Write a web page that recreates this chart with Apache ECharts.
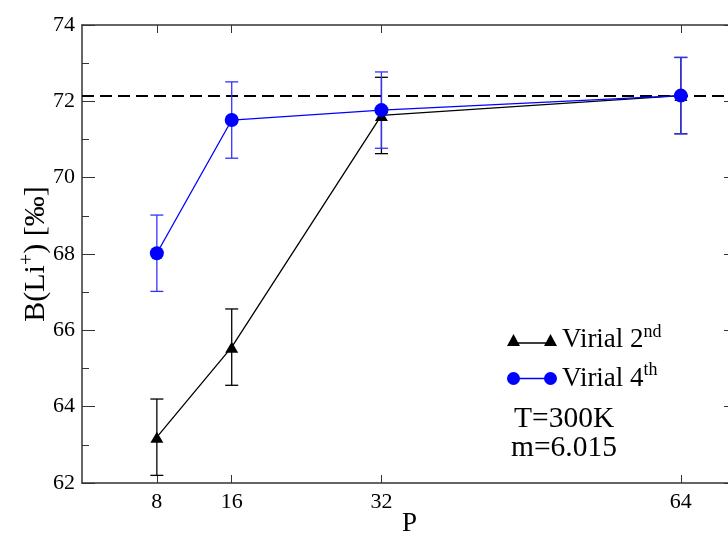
<!DOCTYPE html>
<html>
<head>
<meta charset="utf-8">
<script src="https://cdn.jsdelivr.net/npm/echarts@6/dist/echarts.min.js"></script>
<style>html,body{margin:0;padding:0;background:#fff;overflow:hidden}#c{width:728px;height:534px}</style>
</head>
<body>
<div id="c"></div>
<script>
// ---- data ----
var P = [8, 16, 32, 64];
var virial2 = [63.2, 65.56, 71.63, 72.15];
var virial2Err = [1.0, 1.0, 1.0, 1.0];
var virial4 = [68.02, 71.51, 71.77, 72.15];
var virial4Err = [1.0, 1.0, 1.0, 1.0];
var refLine = 72.14;
var xTicks = [8, 16, 32, 64];
var yMin = 62, yMax = 74, yStep = 2;
var xMin = 0, xMax = 70;

var FONT = 'Liberation Serif';
var chart = echarts.init(document.getElementById('c'), null, {renderer: 'canvas'});

function pairs(xs, ys) { return xs.map(function (x, i) { return [x, ys[i]]; }); }
function errData(xs, ys, es) { return xs.map(function (x, i) { return [x, ys[i] - es[i], ys[i] + es[i]]; }); }

function errRender(color) {
  return function (params, api) {
    var x = api.value(0);
    var lo = api.coord([x, api.value(1)]);
    var hi = api.coord([x, api.value(2)]);
    var w = 6.5;
    var st = {stroke: color, lineWidth: 1.3};
    return {
      type: 'group',
      children: [
        {type: 'line', shape: {x1: lo[0], y1: lo[1], x2: hi[0], y2: hi[1]}, style: st},
        {type: 'line', shape: {x1: lo[0] - w, y1: lo[1], x2: lo[0] + w, y2: lo[1]}, style: st},
        {type: 'line', shape: {x1: hi[0] - w, y1: hi[1], x2: hi[0] + w, y2: hi[1]}, style: st}
      ]
    };
  };
}

var axisLine = {show: true, onZero: false, lineStyle: {color: '#333', width: 1.5}};
var triIcon = 'path://M0,12L6.5,0L13,12Z M6.5,8.3L43.5,8.3L43.5,9.7L6.5,9.7Z M37,12L43.5,0L50,12Z';
var cirIcon = 'path://M0,6.5A6.5,6.5,0,1,1,13,6.5A6.5,6.5,0,1,1,0,6.5Z M6.5,5.8L43.5,5.8L43.5,7.2L6.5,7.2Z M37,6.5A6.5,6.5,0,1,1,50,6.5A6.5,6.5,0,1,1,37,6.5Z';

var option = {
  animation: false,
  backgroundColor: '#fff',
  grid: {left: 82, top: 25, right: -9, bottom: 51, containLabel: false, outerBoundsMode: 'none'},
  xAxis: [{
    type: 'value', min: xMin, max: xMax, position: 'bottom',
    axisLine: axisLine,
    axisTick: {show: true, inside: true, length: 8, customValues: xTicks, lineStyle: {color: '#333', width: 1}},
    axisLabel: {customValues: xTicks, fontFamily: FONT, fontSize: 22, color: '#000', margin: 8},
    splitLine: {show: false},
    name: 'P', nameLocation: 'middle', nameGap: 27, nameMoveOverlap: false,
    nameTextStyle: {fontFamily: FONT, fontSize: 27, color: '#000'}
  }, {
    type: 'value', min: xMin, max: xMax, position: 'top',
    axisLine: axisLine,
    axisTick: {show: true, inside: true, length: 8, customValues: xTicks, lineStyle: {color: '#333', width: 1}},
    axisLabel: {show: false},
    splitLine: {show: false}
  }],
  yAxis: [{
    type: 'value', min: yMin, max: yMax, interval: yStep, position: 'left',
    axisLine: axisLine,
    axisTick: {show: true, inside: true, length: 13, lineStyle: {color: '#333', width: 1}},
    minorTick: {show: true, splitNumber: 2, length: 7, lineStyle: {color: '#333', width: 1}},
    axisLabel: {fontFamily: FONT, fontSize: 22, color: '#000', margin: 7},
    splitLine: {show: false},
    name: '{n|B(Li}{s|+}{n|) [‰]}', nameLocation: 'middle', nameGap: 28, nameRotate: 90, nameMoveOverlap: false,
    nameTextStyle: {
      fontFamily: FONT, fontSize: 30, color: '#000',
      rich: {
        n: {fontFamily: FONT, fontSize: 30, color: '#000'},
        s: {fontFamily: FONT, fontSize: 20, color: '#000', padding: [0, 0, 16, 0]}
      }
    }
  }, {
    type: 'value', min: yMin, max: yMax, interval: yStep, position: 'right',
    axisLine: {show: true, onZero: false, lineStyle: {color: '#333', width: 1.5}},
    axisTick: {show: true, inside: true, length: 13, lineStyle: {color: '#333', width: 1}},
    minorTick: {show: true, splitNumber: 2, length: 7, lineStyle: {color: '#333', width: 1}},
    axisLabel: {show: false},
    splitLine: {show: false}
  }],
  legend: {
    left: 502, top: 318, orient: 'vertical', itemGap: 8,
    itemWidth: 50, itemHeight: 13,
    data: [{name: 'Virial 2nd', icon: triIcon}, {name: 'Virial 4th', icon: cirIcon}],
    formatter: function (n) {
      return n === 'Virial 2nd' ? '{a|Virial 2}{s|nd}' : '{a|Virial 4}{s|th}';
    },
    textStyle: {
      fontFamily: FONT, fontSize: 27, color: '#000',
      rich: {
        a: {fontFamily: FONT, fontSize: 27, color: '#000'},
        s: {fontFamily: FONT, fontSize: 18, color: '#000', padding: [0, 0, 16, 0]}
      }
    }
  },
  graphic: [
    {type: 'text', left: 514, top: 404, style: {text: 'T=300K', font: '29.5px "Liberation Serif"', fill: '#000'}},
    {type: 'text', left: 511, top: 433, style: {text: 'm=6.015', font: '29.5px "Liberation Serif"', fill: '#000'}}
  ],
  series: [
    {
      name: 'ref', type: 'line', data: [[xMin, refLine], [xMax, refLine]], silent: true,
      symbol: 'none', lineStyle: {color: '#000', type: [12, 6], width: 2}, z: 1
    },
    {
      name: 'err2', type: 'custom', renderItem: errRender('#000'),
      data: errData(P, virial2, virial2Err), encode: {x: 0, y: [1, 2]}, z: 2
    },
    {
      name: 'err4', type: 'custom', renderItem: errRender('#3333ff'),
      data: errData(P, virial4, virial4Err), encode: {x: 0, y: [1, 2]}, z: 3
    },
    {
      name: 'Virial 2nd', type: 'line', data: pairs(P, virial2), color: '#000',
      symbol: 'triangle', symbolSize: [13, 11], lineStyle: {width: 1.3, color: '#000'},
      itemStyle: {color: '#000'}, z: 4
    },
    {
      name: 'Virial 4th', type: 'line', data: pairs(P, virial4), color: '#0000ff',
      symbol: 'circle', symbolSize: 14, lineStyle: {width: 1.3, color: '#0000ff'},
      itemStyle: {color: '#0000ff'}, z: 5
    }
  ]
};
chart.setOption(option);
</script>
</body>
</html>
